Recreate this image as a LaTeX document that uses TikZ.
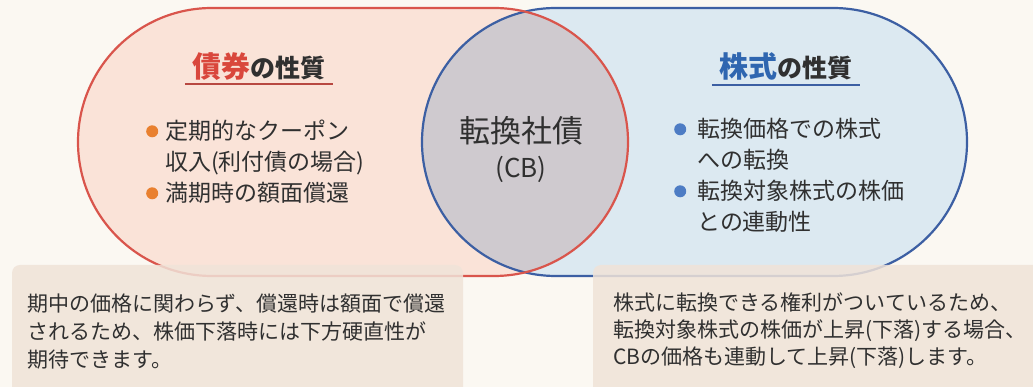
\documentclass[tikz,border=0pt]{standalone}
\usepackage{fontspec}
\setmainfont{Noto Sans CJK JP}
\usetikzlibrary{positioning}
\definecolor{bgcream}{HTML}{FBF8F2}
\definecolor{bondfill}{HTML}{FAE3D8}
\definecolor{stockfill}{HTML}{DCE9F1}
\definecolor{cbfill}{HTML}{CFCACF}
\definecolor{bondred}{HTML}{D9554C}
\definecolor{stockblue}{HTML}{3C5FA3}
\definecolor{notebox}{HTML}{F0E3D8}
\definecolor{txtgray}{HTML}{303030}
\definecolor{bondtxt}{HTML}{D9473C}
\definecolor{stocktxt}{HTML}{2F66B0}
\definecolor{dotorange}{HTML}{E9802F}
\definecolor{dotblue}{HTML}{4D7CC4}
\newcommand\bondbul{\tikz[baseline=-8.7pt]\fill[dotorange] (0,0) circle (6pt);\hspace{7pt}}
\newcommand\stockbul{\tikz[baseline=-8.7pt]\fill[dotblue] (0,0) circle (6pt);\hspace{11pt}}

\begin{document}
\begin{tikzpicture}[x=1pt,y=1pt,
  bondshape/.style={insert path={(212,379) -- (494,379) arc[start angle=90,end angle=-90,radius=134] -- (212,111) arc[start angle=270,end angle=90,radius=134] -- cycle}},
  stockshape/.style={insert path={(556,379) -- (833,379) arc[start angle=90,end angle=-90,radius=134] -- (556,111) arc[start angle=270,end angle=90,radius=134] -- cycle}},
  list/.style={inner sep=0,align=left,text=txtgray,font=\fontsize{23}{31}\selectfont},
  note/.style={inner sep=0,align=left,text=txtgray,font=\fontsize{21}{28}\selectfont},
  title/.style={inner sep=0,minimum width=148,text=txtgray,font=\bfseries}]
\fill[bgcream] (0,0) rectangle (1033,387);
\useasboundingbox (0,0) rectangle (1033,387);
\fill[bondfill,bondshape];
\fill[stockfill,stockshape];
\begin{scope}
\clip[bondshape];
\fill[cbfill,stockshape];
\end{scope}
\draw[stockblue,line width=2.2,stockshape];
\draw[bondred,line width=2.2,bondshape];
\fill[notebox,fill opacity=0.85,rounded corners=8] (12,-10) rectangle (463,122);
\fill[notebox,fill opacity=0.85,rounded corners=8] (593,-10) rectangle (1045,122);
\node[title,anchor=base] (bondtitle) at (259,309) {{\color{bondtxt}\fontsize{29}{29}\selectfont 債券}{\fontsize{25}{25}\selectfont の性質}};
\node[title,anchor=base] (stocktitle) at (786,309) {{\color{stocktxt}\fontsize{29}{29}\selectfont 株式}{\fontsize{25}{25}\selectfont の性質}};
\draw[bondred!85!black,line width=1.5] ([yshift=-6]bondtitle.base west) -- ([yshift=-6]bondtitle.base east);
\draw[stockblue,line width=1.5] ([yshift=-7]stocktitle.base west) -- ([yshift=-7]stocktitle.base east);
\node[list,anchor=base west] (bondlist) at (165,185) {\llap{\bondbul}定期的なクーポン\\収入(利付債の場合)\\\llap{\bondbul}満期時の額面償還};
\node[list,anchor=base west] (stocklist) at (697,156) {\llap{\stockbul}転換価格での株式\\への転換\\\llap{\stockbul}転換対象株式の株価\\との連動性};
\node[align=center,text=txtgray,inner sep=0,font=\fontsize{31}{35}\selectfont] (cb) at (521,237) {転換社債\\{\fontsize{26}{35}\selectfont (CB)}};
\node[note,anchor=base west] (bondnote) at (27,19) {期中の価格に関わらず、償還時は額面で償還\\されるため、株価下落時には下方硬直性が\\期待できます。};
\node[note,anchor=base west,font=\fontsize{21}{27}\selectfont] (stocknote) at (613,22) {株式に転換できる権利がついているため、\\転換対象株式の株価が上昇(下落)する場合、\\CBの価格も連動して上昇(下落)します。};
\end{tikzpicture}
\end{document}
